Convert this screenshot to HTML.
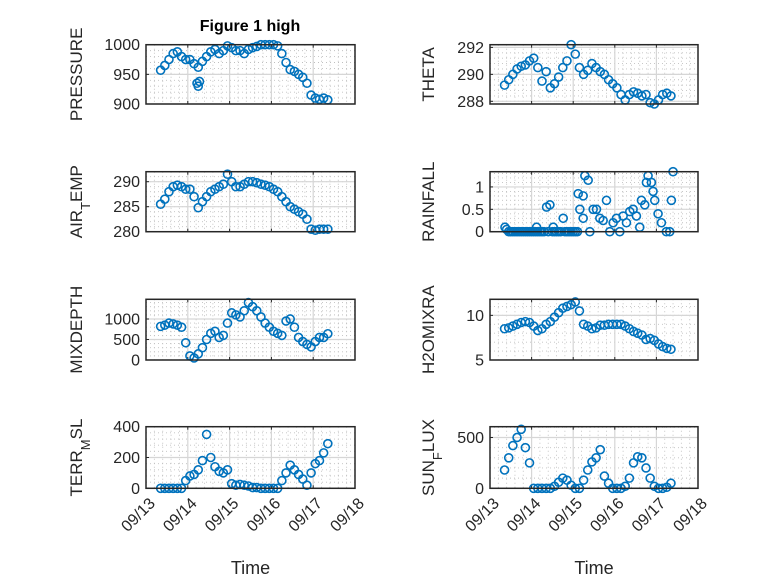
<!DOCTYPE html>
<html><head><meta charset="utf-8"><style>
html,body{margin:0;padding:0;background:#fff;}
svg{display:block;font-family:"Liberation Sans",sans-serif;}
</style></head><body>
<svg id="fig" width="778" height="583" viewBox="0 0 778 583">
<rect x="0" y="0" width="778" height="583" fill="#fff"/>
<text x="250" y="31" text-anchor="middle" font-size="16" font-weight="bold" fill="#000">Figure 1 high</text>
</svg>
<script>
const T=[0.35,0.45,0.55,0.65,0.75,0.85,0.95,1.05,1.15,1.25,1.35,1.45,1.55,1.65,1.75,1.85,1.95,2.05,2.15,2.25,2.35,2.45,2.55,2.65,2.75,2.85,2.95,3.05,3.15,3.25,3.35,3.45,3.55,3.65,3.75,3.85,3.95,4.05,4.15,4.25,4.35];
const pressure=[957,965,975,985,988,980,975,975,968,962,972,980,988,992,985,990,998,995,990,990,985,992,995,997,1000,1000,1000,1000,998,985,970,958,955,950,945,935,915,910,908,910,907];
const pressureExtraT=[1.22,1.25,1.28];
const pressureExtraV=[935,930,938];
const airTemp=[285.5,286.5,288,289,289.3,289,288.5,288.5,287,284.8,286,287,288,288.5,289,289.5,291.5,290,289,289,289.5,290,290,289.8,289.5,289.3,289,288.5,288,287,286,285,284.5,284,283.5,282.5,280.5,280.3,280.5,280.5,280.5];
const mixDepth=[820,850,900,880,850,800,420,100,50,150,300,500,650,700,550,600,900,1150,1100,1050,1200,1400,1300,1200,1050,900,800,700,650,600,950,1000,800,550,450,380,320,450,550,550,640];
const terrMsl=[0,0,0,0,0,0,50,80,90,120,180,350,200,140,110,100,120,30,20,25,20,15,5,5,0,0,0,0,0,50,100,150,120,90,60,20,100,160,180,230,290];
const theta=[289.2,289.6,290,290.4,290.6,290.7,291,291.2,290.5,289.5,290.2,289,289.3,289.8,290.5,291,292.2,291.5,290.5,290,290.3,290.8,290.5,290.2,290,289.6,289.3,289,288.5,288.1,288.5,288.7,288.6,288.4,288.5,287.9,287.8,288.1,288.5,288.6,288.4];
const h2oMixRatio=[8.5,8.6,8.8,9,9.2,9.3,9.2,8.8,8.3,8.5,9,9.3,9.8,10.3,10.8,11,11.2,11.5,10.5,9,8.8,8.5,8.6,8.9,8.9,9,9,9,9,8.8,8.5,8.2,8,7.8,7.3,7.4,7.2,6.8,6.5,6.3,6.2];
const sunFlux=[180,300,420,500,580,400,250,0,0,0,0,0,20,60,100,80,30,0,0,80,180,260,300,380,120,50,0,0,0,20,100,250,310,300,200,100,20,0,0,10,50];
const rainT=[0.36,0.4,0.45,0.5,0.55,0.6,0.65,0.7,0.75,0.8,0.85,0.9,0.95,1.0,1.05,1.1,1.12,1.15,1.2,1.25,1.3,1.36,1.4,1.44,1.5,1.52,1.55,1.6,1.65,1.7,1.76,1.8,1.85,1.9,1.95,2.0,2.05,2.1,2.12,2.16,2.24,2.24,2.28,2.36,2.4,2.48,2.56,2.64,2.72,2.8,2.88,2.96,3.04,3.12,3.2,3.28,3.36,3.44,3.52,3.6,3.64,3.72,3.76,3.8,3.88,3.92,3.96,4.04,4.12,4.24,4.32,4.36,4.4];
const rainV=[0.1,0.05,0,0,0,0,0,0,0,0,0,0,0,0,0,0,0.1,0,0,0,0,0.55,0,0.6,0,0.1,0,0,0,0,0.3,0,0,0,0,0,0,0,0.85,0.5,0.8,0.3,1.25,1.15,0,0.5,0.5,0.3,0.25,0.7,0,0.2,0.3,0,0.35,0.2,0.45,0.5,0.35,0.1,0.7,0.6,1.1,1.25,1.1,0.9,0.7,0.4,0.2,0,0,0.7,1.34];
const xTickLabels=["09/13","09/14","09/15","09/16","09/17","09/18"];

const NS="http://www.w3.org/2000/svg";
const svg=document.getElementById('fig');
function mk(tag,attrs,parent){const e=document.createElementNS(NS,tag);for(const k in attrs)e.setAttribute(k,attrs[k]);(parent||svg).appendChild(e);return e;}
const cols=[{x0:146,x1:355,lx:82},{x0:490,x1:698,lx:434}];
const rows=[{y0:44.7,y1:104},{y0:171.7,y1:231.7},{y0:299.3,y1:360},{y0:426.7,y1:488.3}];
const panels=[
 {c:0,r:0,name:'pressure',lab:[['PRESSURE']],ylim:[900,1000],ticks:[900,950,1000],t:T,v:pressure,et:pressureExtraT,ev:pressureExtraV},
 {c:1,r:0,name:'theta',lab:[['THETA']],ylim:[287.8,292.2],ticks:[288,290,292],t:T,v:theta},
 {c:0,r:1,name:'air-temp',lab:[['AIR'],['T','sub'],['EMP']],ylim:[280,292],ticks:[280,285,290],t:T,v:airTemp},
 {c:1,r:1,name:'rainfall',lab:[['RAINFALL']],ylim:[0,1.34],ticks:[0,0.5,1],t:rainT,v:rainV},
 {c:0,r:2,name:'mixdepth',lab:[['MIXDEPTH']],ylim:[0,1480],ticks:[0,500,1000],t:T,v:mixDepth},
 {c:1,r:2,name:'h2o-mix-ratio',lab:[['H2OMIXRA']],ylim:[5,11.8],ticks:[5,10],t:T,v:h2oMixRatio},
 {c:0,r:3,name:'terr-msl',lab:[['TERR'],['M','sub'],['SL']],ylim:[0,400],ticks:[0,200,400],t:T,v:terrMsl},
 {c:1,r:3,name:'sun-flux',lab:[['SUN'],['F','sub'],['LUX']],ylim:[0,606],ticks:[0,500],t:T,v:sunFlux},
];
panels.forEach(p=>{
 const C=cols[p.c],R=rows[p.r];
 const g=mk('g',{});
 
 
 const xs=d=>C.x0+(C.x1-C.x0)*d/5;
 const ys=v=>R.y1-(R.y1-R.y0)*(v-p.ylim[0])/(p.ylim[1]-p.ylim[0]);
 mk('rect',{x:C.x0,y:R.y0,width:C.x1-C.x0,height:R.y1-R.y0,fill:'#fff'},g);
 for(let d=0;d<5;d++)for(let k=1;k<5;k++){const x=xs(d+k/5);mk('line',{x1:x,x2:x,y1:R.y0,y2:R.y1,stroke:'#c0c0c0','stroke-width':0.9,'stroke-dasharray':'1 3'},g);}
 const st=p.ticks.length>1?p.ticks[1]-p.ticks[0]:1;
 for(let v=p.ticks[0]-st;v<=p.ylim[1]+1e-9;v+=st/5){if(v<p.ylim[0]-1e-9)continue;const y=ys(v);mk('line',{x1:C.x0,x2:C.x1,y1:y,y2:y,stroke:'#c0c0c0','stroke-width':0.9,'stroke-dasharray':'1 3'},g);}
 for(let d=1;d<5;d++){const x=xs(d);mk('line',{x1:x,x2:x,y1:R.y0,y2:R.y1,stroke:'#d6d6d6','stroke-width':1.2},g);}
 p.ticks.forEach(v=>{const y=ys(v);mk('line',{x1:C.x0,x2:C.x1,y1:y,y2:y,stroke:'#d6d6d6','stroke-width':1.2},g);
   const tl=mk('text',{x:C.x0-6,y:y+5.5,'text-anchor':'end','font-size':16,fill:'#262626'},g);tl.textContent=String(v);
   
   
   mk('line',{x1:C.x0,x2:C.x0+3,y1:y,y2:y,stroke:'#262626'},g);});
 for(let d=0;d<=5;d++){const x=xs(d);mk('line',{x1:x,x2:x,y1:R.y1,y2:R.y1-3,stroke:'#262626'},g);mk('line',{x1:x,x2:x,y1:R.y0,y2:R.y0+3,stroke:'#262626'},g);}
 const draw=(t,v)=>t.forEach((d,i)=>{const c=mk('circle',{cx:xs(d),cy:ys(v[i]),r:4,fill:'none',stroke:'#0072BD','stroke-width':1.6},g);
   
   });
 draw(p.t,p.v);
 if(p.et)draw(p.et,p.ev);
 mk('rect',{x:C.x0,y:R.y0,width:C.x1-C.x0,height:R.y1-R.y0,fill:'none',stroke:'#262626','stroke-width':1.5},g);
 const cy=(R.y0+R.y1)/2;
 const yl=mk('text',{x:0,y:0,'text-anchor':'middle','font-size':17,fill:'#262626',transform:`translate(${C.lx},${cy}) rotate(-90)`},g);
 
 
 p.lab.forEach(([s,k])=>{const ts=mk('tspan',k?{'baseline-shift':'sub','font-size':13}:{},yl);ts.textContent=s;});
 if(p.r===3){
  for(let d=0;d<=5;d++){const x=xs(d);const tl=mk('text',{x:0,y:0,'text-anchor':'end','font-size':16,fill:'#262626',transform:`translate(${x+10},${R.y1+16}) rotate(-45)`},g);tl.textContent=xTickLabels[d];
   
   }
  const xl=mk('text',{x:(C.x0+C.x1)/2,y:574,'text-anchor':'middle','font-size':18,fill:'#262626'},g);xl.textContent='Time';
  
  
 }
});
</script>
</body></html>
